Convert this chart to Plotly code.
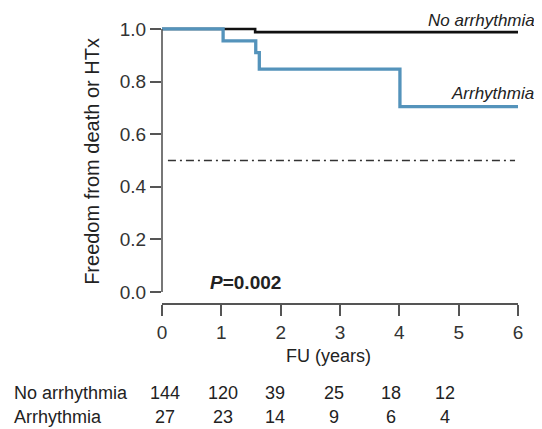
import plotly.graph_objects as go

# ---- data ----
years_ticks = [0, 1, 2, 3, 4, 5, 6]
y_ticks = [0.0, 0.2, 0.4, 0.6, 0.8, 1.0]

no_arr_time = [0, 1.57, 6]
no_arr_surv = [1.0, 0.988, 0.988]

arr_time = [0, 1.03, 1.58, 1.64, 4.01, 6]
arr_surv = [1.0, 0.955, 0.91, 0.847, 0.705, 0.705]

ref_level = 0.5
ref_span = [0.1, 5.95]

p_value_text = "<b><i>P</i>=0.002</b>"

risk_groups = ["No arrhythmia", "Arrhythmia"]
risk_no_arr = [144, 120, 39, 25, 18, 12]
risk_arr = [27, 23, 14, 9, 6, 4]

# ---- layout constants (paper coordinates) ----
FONT = "Liberation Sans, Arial, Helvetica, sans-serif"
AXC = "#555555"
BLUE = "#5493bb"
table_col_x = [0.008, 0.171, 0.317, 0.483, 0.643, 0.795]
table_row_y = [-0.318, -0.403]
table_label_x = -0.421

fig = go.Figure()

fig.add_trace(go.Scatter(
    x=no_arr_time, y=no_arr_surv, mode="lines", line_shape="hv",
    line=dict(color="#111111", width=2.6), showlegend=False, hoverinfo="skip"))
fig.add_trace(go.Scatter(
    x=arr_time, y=arr_surv, mode="lines", line_shape="hv",
    line=dict(color=BLUE, width=3.3), showlegend=False, hoverinfo="skip"))
fig.add_trace(go.Scatter(
    x=ref_span, y=[ref_level, ref_level], mode="lines",
    line=dict(color="#333333", width=1.5, dash="8px,4px,2px,4px"),
    showlegend=False, hoverinfo="skip"))

# y axis line (only from 0 to 1)
fig.add_shape(type="line", xref="paper", yref="y", x0=0, x1=0, y0=0, y1=1,
              line=dict(color=AXC, width=1.6))

def ann(text, x, y, xanchor, size, yanchor="middle"):
    return dict(text=text, x=x, y=y, xref="paper", yref="paper",
                xanchor=xanchor, yanchor=yanchor, showarrow=False,
                font=dict(size=size, color="#222222", family=FONT))

annotations = [
    ann("<i>No arrhythmia</i>", 1.052, 1.0, "right", 17),
    ann("<i>Arrhythmia</i>", 1.050, 0.742, "right", 17),
    ann(p_value_text, 0.128, 0.071, "left", 19),
    ann("FU (years)", 0.469, -0.187, "center", 18),
]
for name, ry in zip(risk_groups, table_row_y):
    annotations.append(ann(name, table_label_x, ry, "left", 18))
for counts, ry in zip([risk_no_arr, risk_arr], table_row_y):
    for cx, n in zip(table_col_x, counts):
        annotations.append(ann(str(n), cx, ry, "center", 18))

# the page body has an 8px margin, so the figure is 8px smaller and offset
fig.update_layout(
    width=534, height=421,
    margin=dict(l=154, r=24, t=12, b=126),
    paper_bgcolor="white", plot_bgcolor="white",
    font=dict(family=FONT, color="#333333"),
    annotations=annotations,
    xaxis=dict(range=[0, 6], tickvals=years_ticks, showgrid=False, zeroline=False,
               automargin=False,
               showline=True, linecolor=AXC, linewidth=1.6,
               ticks="outside", ticklen=11, tickwidth=1.6, tickcolor=AXC,
               tickfont=dict(size=19, color="#333333", family=FONT)),
    yaxis=dict(range=[-0.0418, 1.034], tickvals=y_ticks, tickformat=".1f",
               showgrid=False, zeroline=False, showline=False, automargin=False,
               ticks="outside", ticklen=11, tickwidth=1.6, tickcolor=AXC,
               tickfont=dict(size=19, color="#333333", family=FONT),
               title=dict(text="Freedom from death or HTx", standoff=14,
                          font=dict(size=20, color="#222222", family=FONT))),
)

fig.write_html("out.html")
